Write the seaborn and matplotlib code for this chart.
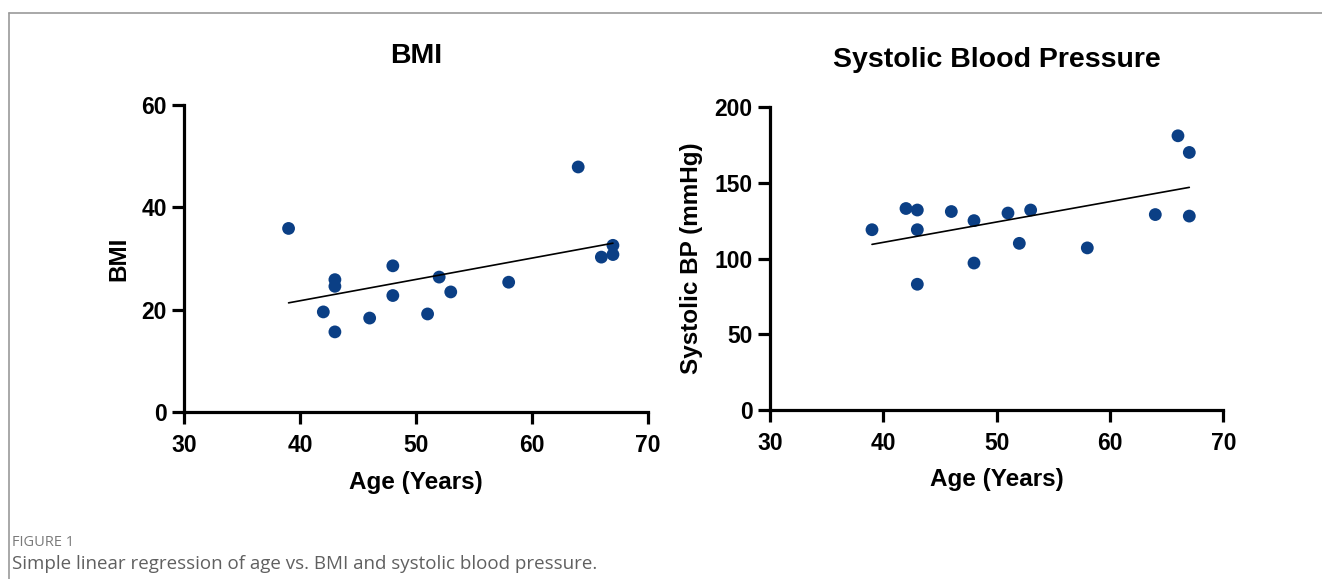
import matplotlib
matplotlib.use("Agg")
import matplotlib.pyplot as plt
import pandas as pd
import seaborn as sns

# Ages of the 16 participants (same for both panels)
age = [39, 42, 43, 43, 43, 46, 48, 48, 51, 52, 53, 58, 64, 66, 67, 67]
bmi = [35.9, 19.6, 25.9, 24.6, 15.7, 18.4, 28.6, 22.8, 19.2, 26.4, 23.5, 25.4, 47.9, 30.3, 32.6, 30.8]

age_bp = [39, 42, 43, 43, 43, 46, 48, 48, 51, 52, 53, 58, 64, 66, 67, 67]
sbp = [119, 133, 132, 119, 83, 131, 125, 97, 130, 110, 132, 107, 129, 181, 170, 128]

x_ticks = [30, 40, 50, 60, 70]
bmi_ticks = [0, 20, 40, 60]
sbp_ticks = [0, 50, 100, 150, 200]

DOT = "#0b3f85"
W, H = 1322, 579

sns.set_style("ticks")
plt.rcParams["font.family"] = ["Liberation Sans", "DejaVu Sans"]
plt.rcParams["text.color"] = "black"
plt.rcParams["axes.labelcolor"] = "black"
plt.rcParams["xtick.color"] = "black"
plt.rcParams["ytick.color"] = "black"

df_bmi = pd.DataFrame({"age": age, "bmi": bmi})
df_bp = pd.DataFrame({"age": age_bp, "sbp": sbp})

fig = plt.figure(figsize=(W / 100, H / 100), dpi=100)


def px_axes(left, right, top, bottom):
    return fig.add_axes([left / W, 1 - bottom / H, (right - left) / W, (bottom - top) / H])


def style_axes(ax, yticks, ylabel):
    ax.set_xlim(30, 70)
    ax.set_ylim(yticks[0], yticks[-1])
    ax.set_xticks(x_ticks)
    ax.set_yticks(yticks)
    sns.despine(ax=ax)
    for s in ("left", "bottom"):
        ax.spines[s].set_linewidth(2.3)
        ax.spines[s].set_color("black")
    ax.tick_params(axis="both", length=8.5, width=2.3, color="black",
                   labelcolor="black", labelsize=16.5)
    ax.tick_params(axis="x", pad=7)
    ax.tick_params(axis="y", pad=4)
    for lab in ax.get_xticklabels() + ax.get_yticklabels():
        lab.set_fontweight("bold")
    ax.set_xlabel("Age (Years)", fontsize=17.5, fontweight="bold", labelpad=10)
    ax.set_ylabel(ylabel, fontsize=17.5, fontweight="bold", labelpad=8)


ax1 = px_axes(184.3, 647.7, 105, 412.3)
sns.regplot(data=df_bmi, x="age", y="bmi", ax=ax1, ci=None, truncate=True,
            scatter_kws={"s": 85, "color": DOT, "edgecolor": "none", "alpha": 1},
            line_kws={"color": "black", "linewidth": 1.2})
style_axes(ax1, bmi_ticks, "BMI")

ax2 = px_axes(770, 1223.3, 107, 410)
sns.regplot(data=df_bp, x="age", y="sbp", ax=ax2, ci=None, truncate=True,
            scatter_kws={"s": 85, "color": DOT, "edgecolor": "none", "alpha": 1},
            line_kws={"color": "black", "linewidth": 1.2})
style_axes(ax2, sbp_ticks, "Systolic BP (mmHg)")

fig.text(416 / W, 1 - 56 / H, "BMI", fontsize=20.5, fontweight="bold",
         ha="center", va="center")
fig.text(997 / W, 1 - 60 / H, "Systolic Blood Pressure", fontsize=20.5,
         fontweight="bold", ha="center", va="center")

# frame lines of the figure panel
fig.add_artist(plt.Line2D([9 / W, 1], [1 - 13 / H, 1 - 13 / H], color="#9a9a9a", linewidth=1.2))
fig.add_artist(plt.Line2D([9 / W, 9 / W], [0, 1 - 13 / H], color="#9a9a9a", linewidth=1.2))

fig.text(12 / W, 1 - 543 / H, "FIGURE 1", fontsize=10.5, color="#7a7a7a",
         family=["Open Sans", "DejaVu Sans"], va="center")
fig.text(12 / W, 1 - 564 / H,
         "Simple linear regression of age vs. BMI and systolic blood pressure.",
         fontsize=13.5, color="#606060", family=["Open Sans", "DejaVu Sans"], va="center")

fig.savefig("out.png", dpi=100)
